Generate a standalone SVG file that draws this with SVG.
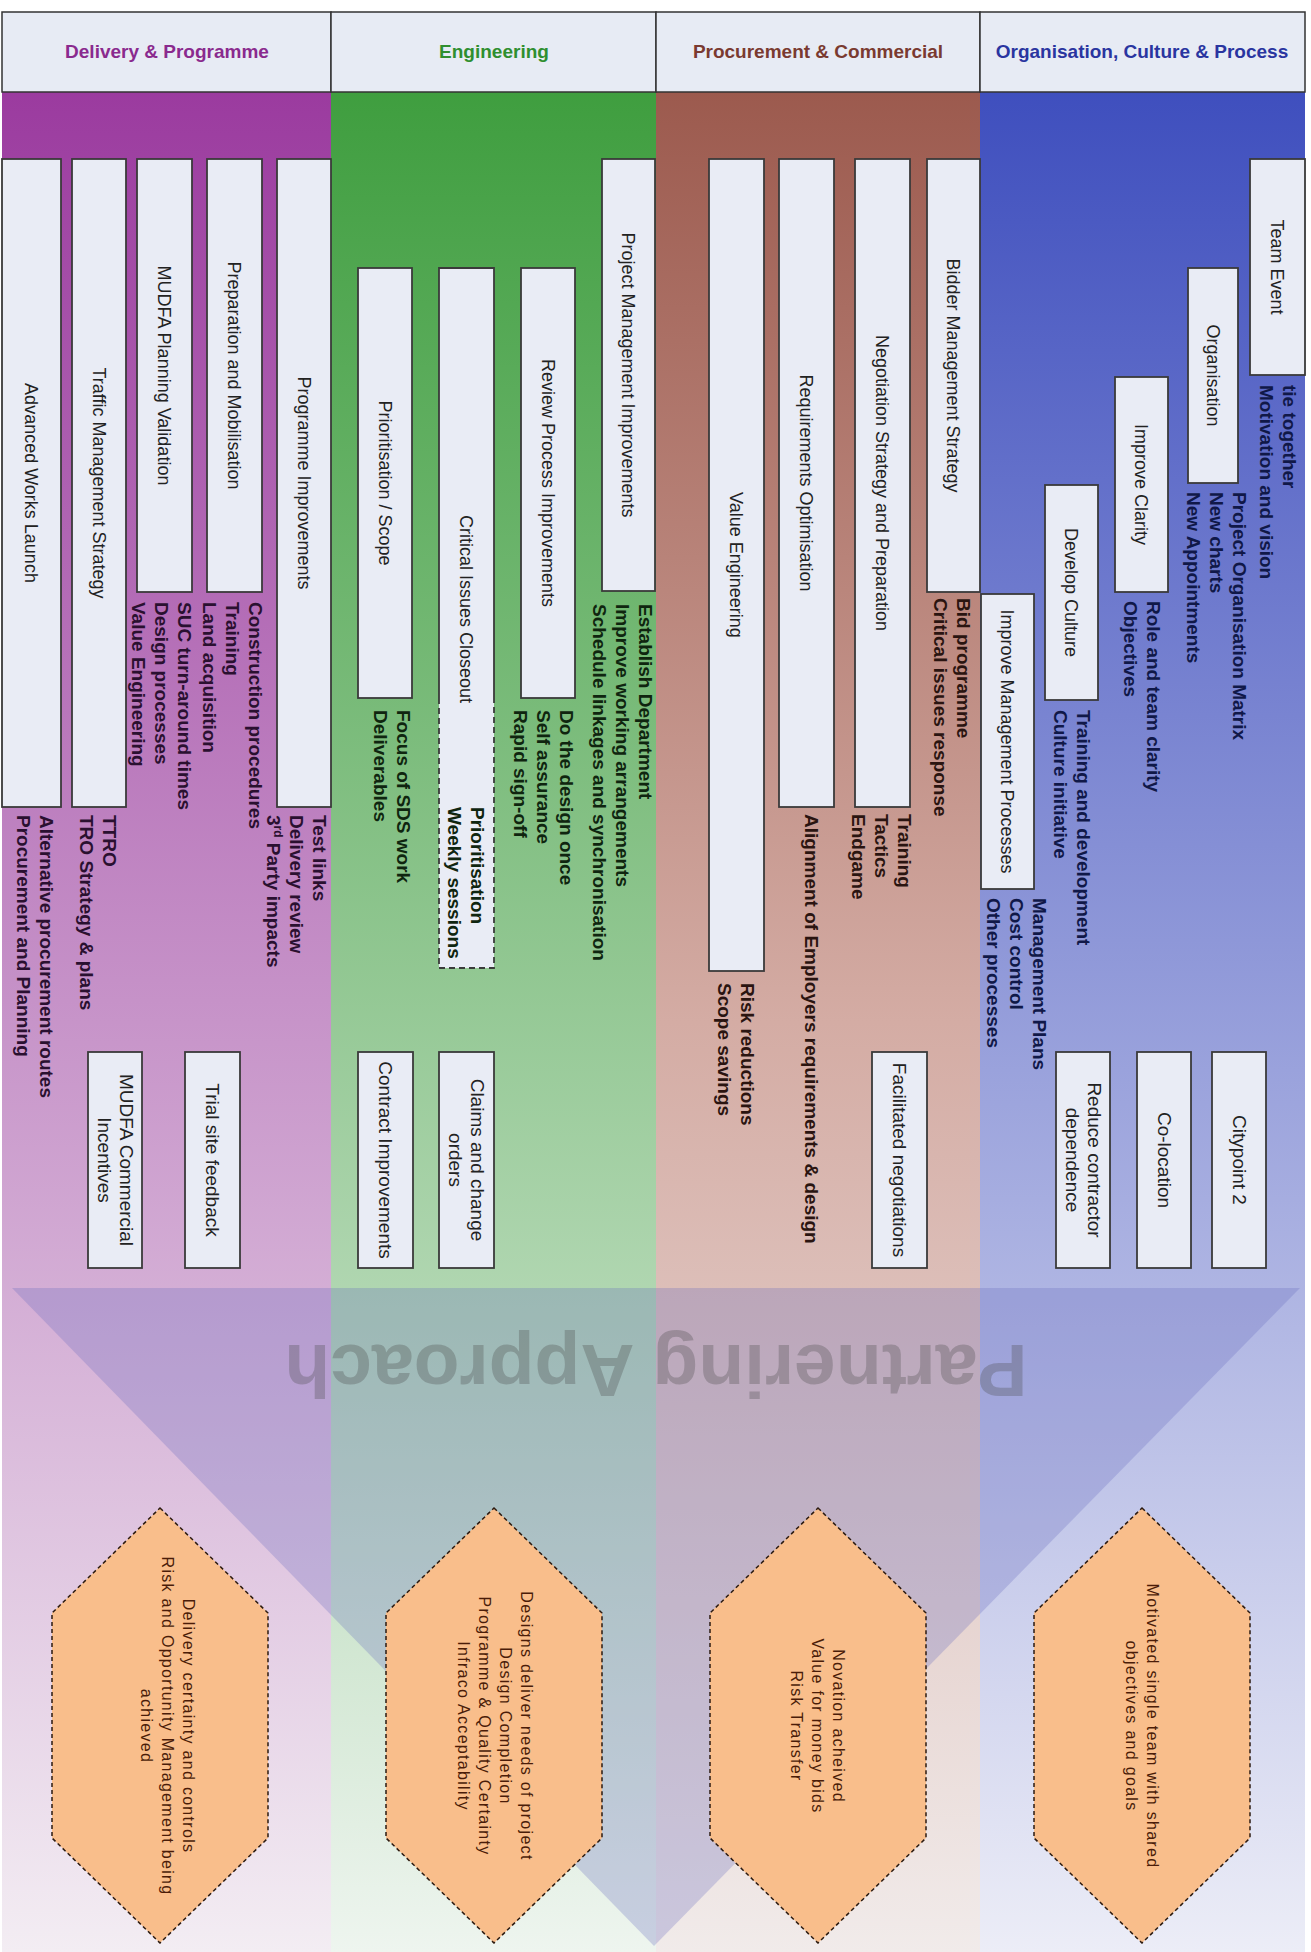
<svg xmlns="http://www.w3.org/2000/svg" width="1311" height="1952" viewBox="0 0 1311 1952">
<defs>
<linearGradient id="gP" gradientUnits="userSpaceOnUse" x1="0" y1="92" x2="0" y2="1952">
<stop offset="0" stop-color="#9b3b9f"/><stop offset="1" stop-color="#f3edf3"/>
</linearGradient>
<linearGradient id="gG" gradientUnits="userSpaceOnUse" x1="0" y1="92" x2="0" y2="1952">
<stop offset="0" stop-color="#3f9e3f"/><stop offset="1" stop-color="#eef5ef"/>
</linearGradient>
<linearGradient id="gB" gradientUnits="userSpaceOnUse" x1="0" y1="92" x2="0" y2="1952">
<stop offset="0" stop-color="#9c5a4e"/><stop offset="0.5" stop-color="#d4aca4"/><stop offset="1" stop-color="#f1ebea"/>
</linearGradient>
<linearGradient id="gU" gradientUnits="userSpaceOnUse" x1="0" y1="92" x2="0" y2="1952">
<stop offset="0" stop-color="#3f4fbe"/><stop offset="1" stop-color="#ecedf7"/>
</linearGradient>
</defs>
<style>
text{font-family:"Liberation Sans",Arial,sans-serif}
.hdr{fill:#e7ebf4;stroke:#333;stroke-width:1.5}
.ht{font-size:19px;font-weight:bold;text-anchor:middle}
.box{fill:#e9ecf5;stroke:#3a3a3a;stroke-width:1.8}
.lbl{font-size:18px;fill:#222;text-anchor:middle}
.sl{font-size:19px;fill:#222;text-anchor:middle}
.lst{font-size:19px;font-weight:bold}
.c1{fill:#2a1030}.c2{fill:#0f250f}.c3{fill:#2a1410}.c4{fill:#101848}
.hex{fill:#f9be8b;stroke:#2b1a10;stroke-width:1.5;stroke-dasharray:4 3}
.hx{font-size:16px;letter-spacing:1.3px;fill:#4a1c08;text-anchor:middle}
</style>
<rect x="0" y="0" width="1311" height="1952" fill="#ffffff"/>
<g id="columns">
<rect x="2" y="92" width="329" height="1860" fill="url(#gP)"/>
<rect x="331" y="92" width="325" height="1860" fill="url(#gG)"/>
<rect x="656" y="92" width="324" height="1860" fill="url(#gB)"/>
<rect x="980" y="92" width="325" height="1860" fill="url(#gU)"/>
</g>
<g id="header">
<rect class="hdr" x="2" y="12" width="329" height="80"/>
<rect class="hdr" x="331" y="12" width="325" height="80"/>
<rect class="hdr" x="656" y="12" width="324" height="80"/>
<rect class="hdr" x="980" y="12" width="325" height="80"/>
<text class="ht" x="167" y="58" fill="#8a2a8e">Delivery &amp; Programme</text>
<text class="ht" x="494" y="58" fill="#2f8f2f">Engineering</text>
<text class="ht" x="818" y="58" fill="#7a3a30">Procurement &amp; Commercial</text>
<text class="ht" x="1142" y="58" fill="#2a35a0">Organisation, Culture &amp; Process</text>
</g>
<g id="partnering">
<polygon points="12,1288 1300,1288 654,1946" fill="#6469be" fill-opacity="0.27"/>
<text x="656" y="1345" transform="rotate(180 656 1345)" font-size="75" font-weight="bold" fill="#4a4a4a" fill-opacity="0.3" text-anchor="middle">Partnering Approach</text>
</g>
<g id="connectors"></g>

<!-- Column 1 -->
<g id="advanced-works-launch">
<rect class="box" x="2" y="159" width="59" height="648"/>
<text class="lbl" transform="translate(31.5,483) rotate(90)" y="6.5">Advanced Works Launch</text>
<text class="lst c1" transform="translate(40,815) rotate(90)"><tspan x="0" y="0">Alternative procurement routes</tspan><tspan x="0" y="23">Procurement and Planning</tspan></text>
</g>
<g id="traffic-management-strategy">
<rect class="box" x="72" y="159" width="54" height="648"/>
<text class="lbl" transform="translate(99,483) rotate(90)" y="6.5">Traffic Management Strategy</text>
<text class="lst c1" transform="translate(103,815) rotate(90)"><tspan x="0" y="0">TTRO</tspan><tspan x="0" y="23">TRO Strategy &amp; plans</tspan></text>
</g>
<g id="mudfa-planning-validation">
<rect class="box" x="137" y="159" width="55" height="433"/>
<text class="lbl" transform="translate(164.5,375.5) rotate(90)" y="6.5">MUDFA Planning Validation</text>
<text class="lst c1" transform="translate(178,602) rotate(90)"><tspan x="0" y="0">SUC turn-around times</tspan><tspan x="0" y="23">Design processes</tspan><tspan x="0" y="46">Value Engineering</tspan></text>
</g>
<g id="preparation-and-mobilisation">
<rect class="box" x="207" y="159" width="55" height="433"/>
<text class="lbl" transform="translate(234.5,375.5) rotate(90)" y="6.5">Preparation and Mobilisation</text>
<text class="lst c1" transform="translate(249,602) rotate(90)"><tspan x="0" y="0">Construction procedures</tspan><tspan x="0" y="23">Training</tspan><tspan x="0" y="46">Land acquisition</tspan></text>
</g>
<g id="programme-improvements">
<rect class="box" x="277" y="159" width="54" height="648"/>
<text class="lbl" transform="translate(304,483) rotate(90)" y="6.5">Programme Improvements</text>
<text class="lst c1" transform="translate(313,815) rotate(90)"><tspan x="0" y="0">Test links</tspan><tspan x="0" y="23">Delivery review</tspan><tspan x="0" y="46">3<tspan font-size="12" dy="-7">rd</tspan><tspan dy="7"> Party impacts</tspan></tspan></text>
</g>
<g id="mudfa-commercial-incentives">
<rect class="box" x="88" y="1052" width="54" height="216"/>
<text class="sl" transform="translate(115,1160) rotate(90)"><tspan x="0" y="-4.5">MUDFA Commercial</tspan><tspan x="0" y="17.5">Incentives</tspan></text>
</g>
<g id="trial-site-feedback">
<rect class="box" x="185" y="1052" width="55" height="216"/>
<text class="sl" transform="translate(212.5,1160) rotate(90)" y="6.5">Trial site feedback</text>
</g>

<!-- Column 2 -->
<g id="prioritisation-scope">
<rect class="box" x="358" y="268" width="54" height="430"/>
<text class="lbl" transform="translate(385,483) rotate(90)" y="6.5">Prioritisation / Scope</text>
<text class="lst c2" transform="translate(397,710) rotate(90)"><tspan x="0" y="0">Focus of SDS work</tspan><tspan x="0" y="23">Deliverables</tspan></text>
</g>
<g id="critical-issues-closeout">
<rect x="439" y="268" width="55" height="700" fill="#e9ecf5"/>
<path d="M439,698 V268 H494 V698" fill="none" stroke="#3a3a3a" stroke-width="1.8"/>
<path d="M439,698 V968 H494 V698" fill="none" stroke="#3a3a3a" stroke-width="1.8" stroke-dasharray="6 4"/>
<text class="lbl" transform="translate(466.5,609) rotate(90)" y="6.5">Critical Issues Closeout</text>
<text class="lst c2" transform="translate(471,807) rotate(90)"><tspan x="0" y="0">Prioritisation</tspan><tspan x="0" y="23">Weekly sessions</tspan></text>
</g>
<g id="review-process-improvements">
<rect class="box" x="521" y="268" width="54" height="430"/>
<text class="lbl" transform="translate(548,483) rotate(90)" y="6.5">Review Process Improvements</text>
<text class="lst c2" transform="translate(560,710) rotate(90)"><tspan x="0" y="0">Do the design once</tspan><tspan x="0" y="23">Self assurance</tspan><tspan x="0" y="46">Rapid sign-off</tspan></text>
</g>
<g id="project-management-improvements">
<rect class="box" x="602" y="159" width="53" height="432"/>
<text class="lbl" transform="translate(628.5,375) rotate(90)" y="6.5">Project Management Improvements</text>
<text class="lst c2" transform="translate(639,604) rotate(90)"><tspan x="0" y="0">Establish Department</tspan><tspan x="0" y="23">Improve working arrangements</tspan><tspan x="0" y="46">Schedule linkages and synchronisation</tspan></text>
</g>
<g id="contract-improvements">
<rect class="box" x="358" y="1052" width="55" height="216"/>
<text class="sl" transform="translate(385.5,1160) rotate(90)" y="6.5">Contract Improvements</text>
</g>
<g id="claims-and-change-orders">
<rect class="box" x="439" y="1052" width="55" height="216"/>
<text class="sl" transform="translate(466.5,1160) rotate(90)"><tspan x="0" y="-4.5">Claims and change</tspan><tspan x="0" y="17.5">orders</tspan></text>
</g>

<!-- Column 3 -->
<g id="value-engineering">
<rect class="box" x="709" y="159" width="55" height="812"/>
<text class="lbl" transform="translate(736.5,565) rotate(90)" y="6.5">Value Engineering</text>
<text class="lst c3" transform="translate(741,983) rotate(90)"><tspan x="0" y="0">Risk reductions</tspan><tspan x="0" y="23">Scope savings</tspan></text>
</g>
<g id="requirements-optimisation">
<rect class="box" x="779" y="159" width="55" height="648"/>
<text class="lbl" transform="translate(806.5,483) rotate(90)" y="6.5">Requirements Optimisation</text>
<text class="lst c3" transform="translate(805,814) rotate(90)"><tspan x="0" y="0">Alignment of Employers requirements &amp; design</tspan></text>
</g>
<g id="negotiation-strategy">
<rect class="box" x="855" y="159" width="55" height="648"/>
<text class="lbl" transform="translate(882.5,483) rotate(90)" y="6.5">Negotiation Strategy and Preparation</text>
<text class="lst c3" transform="translate(898,814) rotate(90)"><tspan x="0" y="0">Training</tspan><tspan x="0" y="23">Tactics</tspan><tspan x="0" y="46">Endgame</tspan></text>
</g>
<g id="bidder-management-strategy">
<rect class="box" x="927" y="159" width="53" height="433"/>
<text class="lbl" transform="translate(953.5,375.5) rotate(90)" y="6.5">Bidder Management Strategy</text>
<text class="lst c3" transform="translate(957,598) rotate(90)"><tspan x="0" y="0">Bid programme</tspan><tspan x="0" y="23">Critical issues response</tspan></text>
</g>
<g id="facilitated-negotiations">
<rect class="box" x="872" y="1052" width="55" height="216"/>
<text class="sl" transform="translate(899.5,1160) rotate(90)" y="6.5">Facilitated negotiations</text>
</g>

<!-- Column 4 -->
<g id="improve-management-processes">
<rect class="box" x="981" y="594" width="53" height="295"/>
<text class="lbl" transform="translate(1007.5,741.5) rotate(90)" y="6.5">Improve Management Processes</text>
<text class="lst c4" transform="translate(1033,898) rotate(90)"><tspan x="0" y="0">Management Plans</tspan><tspan x="0" y="23">Cost control</tspan><tspan x="0" y="46">Other processes</tspan></text>
</g>
<g id="develop-culture">
<rect class="box" x="1045" y="485" width="53" height="215"/>
<text class="lbl" transform="translate(1071.5,592.5) rotate(90)" y="6.5">Develop Culture</text>
<text class="lst c4" transform="translate(1077,710) rotate(90)"><tspan x="0" y="0">Training and development</tspan><tspan x="0" y="23">Culture initiative</tspan></text>
</g>
<g id="improve-clarity">
<rect class="box" x="1115" y="377" width="53" height="215"/>
<text class="lbl" transform="translate(1141.5,484.5) rotate(90)" y="6.5">Improve Clarity</text>
<text class="lst c4" transform="translate(1147,601) rotate(90)"><tspan x="0" y="0">Role and team clarity</tspan><tspan x="0" y="23">Objectives</tspan></text>
</g>
<g id="organisation">
<rect class="box" x="1188" y="268" width="50" height="215"/>
<text class="lbl" transform="translate(1213,375.5) rotate(90)" y="6.5">Organisation</text>
<text class="lst c4" transform="translate(1233,492) rotate(90)"><tspan x="0" y="0">Project Organisation Matrix</tspan><tspan x="0" y="23">New charts</tspan><tspan x="0" y="46">New Appointments</tspan></text>
</g>
<g id="team-event">
<rect class="box" x="1250" y="159" width="55" height="216"/>
<text class="lbl" transform="translate(1277.5,267) rotate(90)" y="6.5">Team Event</text>
<text class="lst c4" transform="translate(1283,385) rotate(90)"><tspan x="0" y="0">tie together</tspan><tspan x="0" y="23">Motivation and vision</tspan></text>
</g>
<g id="reduce-contractor-dependence">
<rect class="box" x="1056" y="1052" width="54" height="216"/>
<text class="sl" transform="translate(1083,1160) rotate(90)"><tspan x="0" y="-4.5">Reduce contractor</tspan><tspan x="0" y="17.5">dependence</tspan></text>
</g>
<g id="co-location">
<rect class="box" x="1137" y="1052" width="54" height="216"/>
<text class="sl" transform="translate(1164,1160) rotate(90)" y="6.5">Co-location</text>
</g>
<g id="citypoint-2">
<rect class="box" x="1212" y="1052" width="54" height="216"/>
<text class="sl" transform="translate(1239,1160) rotate(90)" y="6.5">Citypoint 2</text>
</g>

<!-- Outcome hexagons -->
<g id="outcome-delivery">
<polygon class="hex" points="160,1508 268,1613 268,1838 160,1943 52,1838 52,1613"/>
<text class="hx" transform="translate(168,1726) rotate(90)"><tspan x="0" y="-15.3">Delivery certainty and controls</tspan><tspan x="0" y="5.7">Risk and Opportunity Management being</tspan><tspan x="0" y="26.7">achieved</tspan></text>
</g>
<g id="outcome-engineering">
<polygon class="hex" points="494,1508 602,1613 602,1838 494,1943 386,1838 386,1613"/>
<text class="hx" transform="translate(495,1726) rotate(90)"><tspan x="0" y="-25.8">Designs deliver needs of project</tspan><tspan x="0" y="-4.8">Design Completion</tspan><tspan x="0" y="16.2">Programme &amp; Quality Certainty</tspan><tspan x="0" y="37.2">Infraco Acceptability</tspan></text>
</g>
<g id="outcome-procurement">
<polygon class="hex" points="818,1508 926,1613 926,1838 818,1943 710,1838 710,1613"/>
<text class="hx" transform="translate(818,1726) rotate(90)"><tspan x="0" y="-15.3">Novation acheived</tspan><tspan x="0" y="5.7">Value for money bids</tspan><tspan x="0" y="26.7">Risk Transfer</tspan></text>
</g>
<g id="outcome-organisation">
<polygon class="hex" points="1142,1508 1250,1613 1250,1838 1142,1943 1034,1838 1034,1613"/>
<text class="hx" transform="translate(1142,1726) rotate(90)"><tspan x="0" y="-4.8">Motivated single team with shared</tspan><tspan x="0" y="16.2">objectives and goals</tspan></text>
</g>
</svg>
